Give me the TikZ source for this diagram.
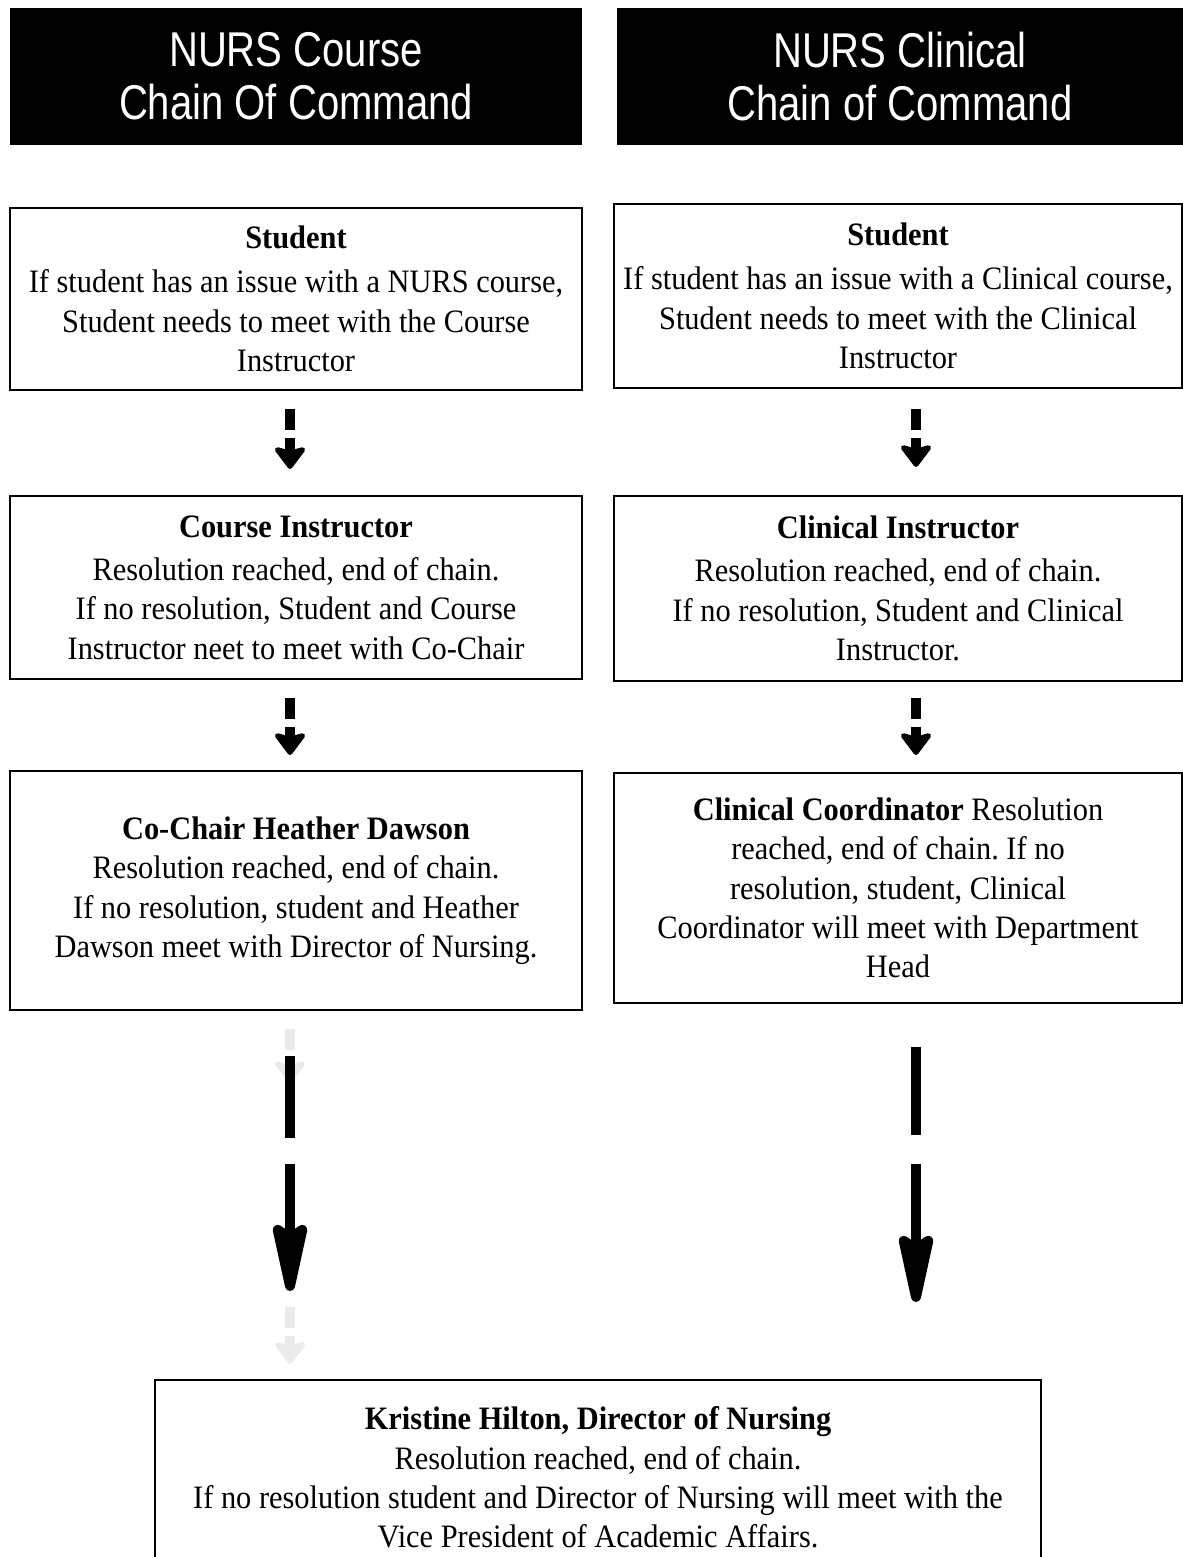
\documentclass[tikz,border=0pt]{standalone}
\usepackage{fontspec}
\setmainfont{Liberation Serif}[FakeStretch=0.93]
\newfontfamily\headfont{Liberation Sans}[FakeStretch=0.82]
\usetikzlibrary{arrows.meta}
\frenchspacing

\begin{document}
\begin{tikzpicture}[
  headbox/.style={fill=black, text=white, inner sep=0pt, align=center,
    minimum height=1.37cm, font=\headfont\fontsize{13.9}{15.1}\selectfont},
  stepbox/.style={draw, line width=0.6pt, inner sep=0pt, align=center,
    font=\fontsize{9.3}{11.2}\selectfont},
  shortarrow/.style={line width=0.1cm, dash pattern=on 0.21cm off 0.08cm on 1cm,
    -{Stealth[length=0.25cm, width=0.37cm, inset=0.05cm, round]}},
  longarrow/.style={line width=0.1cm,
    -{Stealth[length=0.9cm, width=0.38cm, inset=0.12cm, round]}},
  ghost/.style={shortarrow, draw=black!8}
]
  \useasboundingbox (0,0) rectangle (11.82,-15.57);
  % headers
  \node[headbox, minimum width=5.72cm] (hcourse) at (2.96,-0.765) {NURS Course\\Chain Of Command};
  \node[headbox, minimum width=5.66cm] (hclin) at (9.00,-0.765) {NURS Clinical\\Chain of Command};

  % course column
  \node[stepbox, minimum width=5.72cm, minimum height=1.82cm] (L1) at (2.96,-2.99)
    {\textbf{Student}\\[0.05cm]If student has an issue with a NURS course,\\Student needs to meet with the Course\\Instructor};
  \node[stepbox, minimum width=5.72cm, minimum height=1.83cm] (L2) at (2.96,-5.875)
    {\textbf{Course Instructor}\\[0.04cm]Resolution reached, end of chain.\\If no resolution, Student and Course\\Instructor neet to meet with Co-Chair};
  \node[stepbox, minimum width=5.72cm, minimum height=2.39cm] (L3) at (2.96,-8.905)
    {\textbf{Co-Chair Heather Dawson}\\Resolution reached, end of chain.\\If no resolution, student and Heather\\Dawson meet with Director of Nursing.};

  % clinical column
  \node[stepbox, minimum width=5.68cm, minimum height=1.84cm] (R1) at (8.98,-2.96)
    {\textbf{Student}\\[0.05cm]If student has an issue with a Clinical course,\\Student needs to meet with the Clinical\\Instructor};
  \node[stepbox, minimum width=5.68cm, minimum height=1.85cm] (R2) at (8.98,-5.885)
    {\textbf{Clinical Instructor}\\[0.04cm]Resolution reached, end of chain.\\If no resolution, Student and Clinical\\Instructor.};
  \node[stepbox, minimum width=5.68cm, minimum height=2.30cm] (R3) at (8.98,-8.88)
    {\textbf{Clinical Coordinator} Resolution\\reached, end of chain. If no\\resolution, student, Clinical\\Coordinator will meet with Department\\Head};

  % director
  \node[stepbox, minimum width=8.86cm, minimum height=1.95cm] (dir) at (5.98,-14.775)
    {\textbf{Kristine Hilton, Director of Nursing}\\Resolution reached, end of chain.\\If no resolution student and Director of Nursing will meet with the\\Vice President of Academic Affairs.};

  \coordinate (lx) at (2.90,0);
  \coordinate (rx) at (9.16,0);

  % arrows
  \draw[shortarrow, shorten <=0.18cm, shorten >=0.26cm] (L1.south -| lx) -- (L2.north -| lx);
  \draw[shortarrow, shorten <=0.18cm, shorten >=0.15cm] (L2.south -| lx) -- (L3.north -| lx);
  \draw[shortarrow, shorten <=0.20cm, shorten >=0.28cm] (R1.south -| rx) -- (R2.north -| rx);
  \draw[shortarrow, shorten <=0.16cm, shorten >=0.17cm] (R2.south -| rx) -- (R3.north -| rx);

  \draw[ghost, shorten <=0.18cm] (L3.south -| lx) -- ++(0,-0.72);
  \draw[ghost] (dir.north -| lx) ++(0,0.72) -- ++(0,-0.57);

  \draw[longarrow, dash pattern=on 0.82cm off 0.26cm on 3cm, shorten <=0.45cm, shorten >=0.88cm]
    (L3.south -| lx) -- (dir.north -| lx);
  \draw[longarrow, dash pattern=on 0.88cm off 0.29cm on 3cm, shorten <=0.43cm, shorten >=0.77cm]
    (R3.south -| rx) -- (dir.north -| rx);
\end{tikzpicture}
\end{document}
